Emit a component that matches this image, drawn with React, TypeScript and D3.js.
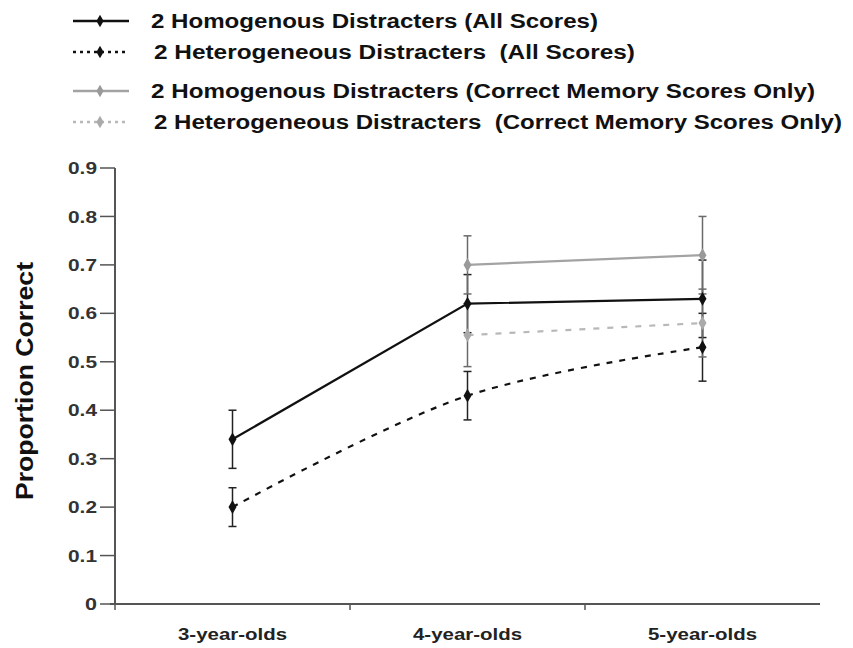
import { useEffect, useRef } from "react";
import * as d3 from "d3";

const categories = ["3-year-olds", "4-year-olds", "5-year-olds"];
const yTicks = [0, 0.1, 0.2, 0.3, 0.4, 0.5, 0.6, 0.7, 0.8, 0.9];

const homAll = [0.34, 0.62, 0.63];
const homAllErr = [0.06, 0.06, 0.08];
const hetAll = [0.2, 0.43, 0.53];
const hetAllErr = [0.04, 0.05, 0.07];
const homCorrect = [null, 0.7, 0.72];
const homCorrectErr = [null, 0.06, 0.08];
const hetCorrect = [null, 0.555, 0.58];
const hetCorrectErr = [null, 0.065, 0.07];

const legendLabels = [
    "2 Homogenous Distracters (All Scores)",
    "2 Heterogeneous Distracters  (All Scores)",
    "2 Homogenous Distracters (Correct Memory Scores Only)",
    "2 Heterogeneous Distracters  (Correct Memory Scores Only)",
];

export default function App() {
    const svgRef = useRef<SVGSVGElement | null>(null);

    useEffect(() => {
        if (!svgRef.current) return;
        const root = d3.select(svgRef.current);
        root.selectAll("*").remove();

        const font = "'Liberation Sans', Arial, sans-serif";
        const axisColor = "#555";

        const x = d3.scaleBand().domain(categories).range([115, 820]);
        const y = d3.scaleLinear().domain([0, 0.9]).range([604, 168]);
        const cx = (i: number) => (x(categories[i]) || 0) + x.bandwidth() / 2;

        const series = [
            { values: homAll, err: homAllErr, color: "#111", errColor: "#222", dash: null, smooth: false, marker: "#111" },
            { values: hetAll, err: hetAllErr, color: "#111", errColor: "#222", dash: "6,7", smooth: true, marker: "#111" },
            { values: homCorrect, err: homCorrectErr, color: "#a3a3a3", errColor: "#6a6a6a", dash: null, smooth: false, marker: "#9a9a9a" },
            { values: hetCorrect, err: hetCorrectErr, color: "#b8b8b8", errColor: "#6a6a6a", dash: "6,8", smooth: true, marker: "#aaaaaa" },
        ];

        // y axis
        const ya = root.append("g");
        ya.append("line").attr("x1", 115).attr("x2", 115).attr("y1", y(0.9)).attr("y2", y(0))
            .attr("stroke", axisColor).attr("stroke-width", 2);
        ya.selectAll(".yt").data(yTicks).enter().append("line")
            .attr("x1", 100).attr("x2", 115).attr("y1", (d) => y(d)).attr("y2", (d) => y(d))
            .attr("stroke", axisColor).attr("stroke-width", 1.5);
        ya.selectAll(".yl").data(yTicks).enter().append("text")
            .attr("x", 97).attr("y", (d) => y(d)).attr("dy", "0.36em")
            .attr("text-anchor", "end").attr("font-family", font).attr("font-weight", "bold")
            .attr("font-size", 17).attr("fill", "#333")
            .attr("textLength", (d) => (d === 0 ? 12 : 29)).attr("lengthAdjust", "spacingAndGlyphs")
            .text((d) => (d === 0 ? "0" : d3.format(".1f")(d)));

        root.append("text")
            .attr("transform", `translate(33,381) rotate(-90)`)
            .attr("text-anchor", "middle").attr("font-family", font).attr("font-weight", "bold")
            .attr("font-size", 24).attr("fill", "#111")
            .attr("textLength", 238).attr("lengthAdjust", "spacingAndGlyphs")
            .text("Proportion Correct");

        // x axis
        const xa = root.append("g");
        xa.append("line").attr("x1", 110).attr("x2", 820).attr("y1", 604).attr("y2", 604)
            .attr("stroke", axisColor).attr("stroke-width", 2);
        const bounds = categories.map((c) => x(c) || 0);
        xa.selectAll(".xt").data(bounds).enter().append("line")
            .attr("x1", (d) => d).attr("x2", (d) => d).attr("y1", 604).attr("y2", 610)
            .attr("stroke", axisColor).attr("stroke-width", 1.5);
        xa.selectAll(".xl").data(categories).enter().append("text")
            .attr("x", (d) => (x(d) || 0) + x.bandwidth() / 2).attr("y", 640)
            .attr("text-anchor", "middle").attr("font-family", font).attr("font-weight", "bold")
            .attr("font-size", 17).attr("fill", "#222")
            .attr("textLength", 109).attr("lengthAdjust", "spacingAndGlyphs")
            .text((d) => d);

        // error bars
        series.forEach((s) => {
            s.values.forEach((v, i) => {
                if (v == null) return;
                const e = s.err[i] as number;
                const g = root.append("g").attr("stroke", s.errColor).attr("stroke-width", 1.5);
                g.append("line").attr("x1", cx(i)).attr("x2", cx(i)).attr("y1", y(v + e)).attr("y2", y(v - e));
                [v + e, v - e].forEach((w) => {
                    g.append("line").attr("x1", cx(i) - 4).attr("x2", cx(i) + 4).attr("y1", y(w)).attr("y2", y(w));
                });
            });
        });

        // lines + markers
        const diamond = d3.symbol().type(d3.symbolDiamond).size(55);
        [2, 3, 0, 1].forEach((k) => {
            const s = series[k];
            const pts = s.values
                .map((v, i) => (v == null ? null : [cx(i), y(v)] as [number, number]))
                .filter((p) => p != null) as [number, number][];
            const line = d3.line().curve(s.smooth ? d3.curveCatmullRom.alpha(0.5) : d3.curveLinear);
            const path = root.append("path").attr("d", line(pts)).attr("fill", "none")
                .attr("stroke", s.color).attr("stroke-width", 2.2);
            if (s.dash) path.attr("stroke-dasharray", s.dash);
            root.selectAll(null).data(pts).enter().append("path")
                .attr("d", diamond).attr("transform", (p) => `translate(${p[0]},${p[1]})`)
                .attr("fill", s.marker);
        });

        // legend
        const legendY = [21, 52, 91, 122];
        const legendX = [151, 154, 151, 154];
        const legendEnd = [598, 635, 815, 842];
        const legendDash = [null, "3,4", null, "3,4"];
        const smallDiamond = d3.symbol().type(d3.symbolDiamond).size(45);
        series.forEach((s, i) => {
            const g = root.append("g");
            const l = g.append("line").attr("x1", 73).attr("x2", 129).attr("y1", legendY[i]).attr("y2", legendY[i])
                .attr("stroke", s.color).attr("stroke-width", 2.5);
            if (legendDash[i]) l.attr("stroke-dasharray", legendDash[i] as string);
            g.append("path").attr("d", smallDiamond).attr("transform", `translate(100,${legendY[i]})`)
                .attr("fill", s.marker);
            g.append("text").attr("x", legendX[i]).attr("y", legendY[i]).attr("dy", "0.36em")
                .attr("font-family", font).attr("font-weight", "bold").attr("font-size", 20)
                .attr("fill", "#111").style("white-space", "pre")
                .attr("textLength", legendEnd[i] - legendX[i]).attr("lengthAdjust", "spacingAndGlyphs")
                .text(legendLabels[i]);
        });
    }, []);

    return (
        <svg
            ref={svgRef}
            width={853}
            height={648}
            style={{ position: "absolute", left: 0, top: 0, background: "#fff" }}
        />
    );
}
